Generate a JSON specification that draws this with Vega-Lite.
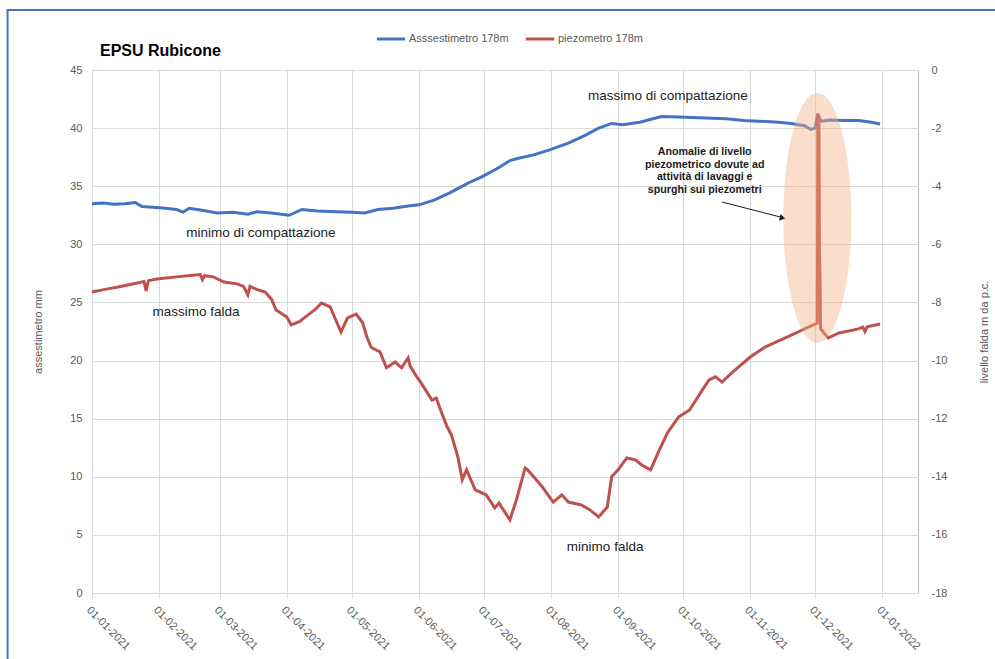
{
  "$schema": "https://vega.github.io/schema/vega-lite/v6.json",
  "width": 826,
  "height": 523,
  "autosize": {"type": "none"},
  "padding": {"left": 92, "top": 70, "right": 77, "bottom": 66},
  "background": "white",
  "config": {
    "font": "Liberation Sans",
    "view": {"stroke": "#bfbfbf", "strokeWidth": 1}
  },
  "title": {
    "text": "EPSU Rubicone",
    "anchor": "start",
    "frame": "group",
    "dx": 8,
    "dy": 60,
    "offset": 10,
    "fontSize": 16,
    "fontWeight": "bold",
    "font": "Liberation Sans",
    "color": "#000000"
  },
  "datasets": {
    "ass": [
      {"d": "2021-01-01", "v": 33.5}, {"d": "2021-01-06", "v": 33.55}, {"d": "2021-01-11", "v": 33.45},
      {"d": "2021-01-16", "v": 33.5}, {"d": "2021-01-21", "v": 33.6}, {"d": "2021-01-24", "v": 33.25},
      {"d": "2021-01-29", "v": 33.2}, {"d": "2021-02-04", "v": 33.1}, {"d": "2021-02-09", "v": 33.0},
      {"d": "2021-02-12", "v": 32.78}, {"d": "2021-02-15", "v": 33.1}, {"d": "2021-02-20", "v": 32.95},
      {"d": "2021-02-28", "v": 32.7}, {"d": "2021-03-07", "v": 32.75}, {"d": "2021-03-14", "v": 32.6},
      {"d": "2021-03-18", "v": 32.8}, {"d": "2021-03-25", "v": 32.7}, {"d": "2021-04-02", "v": 32.5},
      {"d": "2021-04-08", "v": 33.0}, {"d": "2021-04-15", "v": 32.87}, {"d": "2021-04-24", "v": 32.8},
      {"d": "2021-05-01", "v": 32.75}, {"d": "2021-05-07", "v": 32.7}, {"d": "2021-05-13", "v": 33.0},
      {"d": "2021-05-20", "v": 33.1}, {"d": "2021-05-27", "v": 33.3}, {"d": "2021-06-01", "v": 33.4},
      {"d": "2021-06-08", "v": 33.8}, {"d": "2021-06-15", "v": 34.4}, {"d": "2021-06-20", "v": 34.9},
      {"d": "2021-06-24", "v": 35.3}, {"d": "2021-06-30", "v": 35.8}, {"d": "2021-07-07", "v": 36.5},
      {"d": "2021-07-13", "v": 37.2}, {"d": "2021-07-17", "v": 37.4}, {"d": "2021-07-24", "v": 37.7},
      {"d": "2021-07-31", "v": 38.1}, {"d": "2021-08-09", "v": 38.7}, {"d": "2021-08-17", "v": 39.4},
      {"d": "2021-08-23", "v": 40.0}, {"d": "2021-08-29", "v": 40.4}, {"d": "2021-09-03", "v": 40.3},
      {"d": "2021-09-11", "v": 40.5}, {"d": "2021-09-21", "v": 41.0}, {"d": "2021-09-29", "v": 40.95},
      {"d": "2021-10-08", "v": 40.9}, {"d": "2021-10-21", "v": 40.8}, {"d": "2021-10-29", "v": 40.65},
      {"d": "2021-11-05", "v": 40.6}, {"d": "2021-11-14", "v": 40.5}, {"d": "2021-11-20", "v": 40.4},
      {"d": "2021-11-26", "v": 40.2}, {"d": "2021-11-29", "v": 39.9}, {"d": "2021-12-01", "v": 40.0},
      {"d": "2021-12-02", "v": 41.0}, {"d": "2021-12-04", "v": 40.6}, {"d": "2021-12-08", "v": 40.7},
      {"d": "2021-12-14", "v": 40.65}, {"d": "2021-12-21", "v": 40.65}, {"d": "2021-12-27", "v": 40.5},
      {"d": "2021-12-31", "v": 40.35}
    ],
    "piezo": [
      {"d": "2021-01-01", "m": -7.64}, {"d": "2021-01-07", "m": -7.55}, {"d": "2021-01-13", "m": -7.47},
      {"d": "2021-01-22", "m": -7.33}, {"d": "2021-01-25", "m": -7.28}, {"d": "2021-01-26", "m": -7.6},
      {"d": "2021-01-27", "m": -7.25}, {"d": "2021-01-31", "m": -7.19}, {"d": "2021-02-09", "m": -7.12},
      {"d": "2021-02-19", "m": -7.05}, {"d": "2021-02-20", "m": -7.04}, {"d": "2021-02-21", "m": -7.22},
      {"d": "2021-02-22", "m": -7.08}, {"d": "2021-02-26", "m": -7.12}, {"d": "2021-03-03", "m": -7.3},
      {"d": "2021-03-09", "m": -7.36}, {"d": "2021-03-12", "m": -7.45}, {"d": "2021-03-14", "m": -7.74},
      {"d": "2021-03-15", "m": -7.45}, {"d": "2021-03-18", "m": -7.55}, {"d": "2021-03-22", "m": -7.64},
      {"d": "2021-03-25", "m": -7.9}, {"d": "2021-03-27", "m": -8.26}, {"d": "2021-04-01", "m": -8.5},
      {"d": "2021-04-03", "m": -8.77}, {"d": "2021-04-07", "m": -8.65}, {"d": "2021-04-09", "m": -8.53},
      {"d": "2021-04-14", "m": -8.25}, {"d": "2021-04-17", "m": -8.02}, {"d": "2021-04-21", "m": -8.15},
      {"d": "2021-04-23", "m": -8.5}, {"d": "2021-04-26", "m": -9.02}, {"d": "2021-04-29", "m": -8.53},
      {"d": "2021-05-03", "m": -8.4}, {"d": "2021-05-06", "m": -8.7}, {"d": "2021-05-08", "m": -9.2},
      {"d": "2021-05-10", "m": -9.55}, {"d": "2021-05-14", "m": -9.7}, {"d": "2021-05-17", "m": -10.25},
      {"d": "2021-05-21", "m": -10.05}, {"d": "2021-05-24", "m": -10.25}, {"d": "2021-05-27", "m": -9.91},
      {"d": "2021-05-28", "m": -10.2}, {"d": "2021-05-31", "m": -10.56}, {"d": "2021-06-02", "m": -10.77},
      {"d": "2021-06-07", "m": -11.36}, {"d": "2021-06-09", "m": -11.29}, {"d": "2021-06-11", "m": -11.7},
      {"d": "2021-06-14", "m": -12.28}, {"d": "2021-06-16", "m": -12.56}, {"d": "2021-06-19", "m": -13.32},
      {"d": "2021-06-21", "m": -14.1}, {"d": "2021-06-23", "m": -13.76}, {"d": "2021-06-27", "m": -14.45},
      {"d": "2021-07-02", "m": -14.62}, {"d": "2021-07-06", "m": -15.07}, {"d": "2021-07-08", "m": -14.9},
      {"d": "2021-07-10", "m": -15.14}, {"d": "2021-07-13", "m": -15.48}, {"d": "2021-07-16", "m": -14.8},
      {"d": "2021-07-20", "m": -13.7}, {"d": "2021-07-21", "m": -13.75}, {"d": "2021-07-24", "m": -14.0},
      {"d": "2021-07-28", "m": -14.35}, {"d": "2021-07-30", "m": -14.56}, {"d": "2021-08-02", "m": -14.87},
      {"d": "2021-08-06", "m": -14.62}, {"d": "2021-08-09", "m": -14.87}, {"d": "2021-08-15", "m": -14.97},
      {"d": "2021-08-19", "m": -15.14}, {"d": "2021-08-23", "m": -15.38}, {"d": "2021-08-27", "m": -15.04},
      {"d": "2021-08-29", "m": -14.0}, {"d": "2021-09-01", "m": -13.76}, {"d": "2021-09-05", "m": -13.35},
      {"d": "2021-09-09", "m": -13.42}, {"d": "2021-09-12", "m": -13.6}, {"d": "2021-09-16", "m": -13.76},
      {"d": "2021-09-20", "m": -13.08}, {"d": "2021-09-24", "m": -12.46}, {"d": "2021-09-29", "m": -11.94},
      {"d": "2021-10-04", "m": -11.7}, {"d": "2021-10-10", "m": -11.0}, {"d": "2021-10-13", "m": -10.67},
      {"d": "2021-10-16", "m": -10.56}, {"d": "2021-10-19", "m": -10.74}, {"d": "2021-10-24", "m": -10.39},
      {"d": "2021-11-01", "m": -9.88}, {"d": "2021-11-08", "m": -9.53}, {"d": "2021-11-18", "m": -9.19},
      {"d": "2021-11-27", "m": -8.88}, {"d": "2021-12-02", "m": -8.71},
      {"d": "2021-12-02T06:00Z", "m": -1.5}, {"d": "2021-12-02T18:00Z", "m": -1.6},
      {"d": "2021-12-03T00:00Z", "m": -6.4}, {"d": "2021-12-03T06:00Z", "m": -7.0},
      {"d": "2021-12-03T12:00Z", "m": -8.9}, {"d": "2021-12-04", "m": -8.95},
      {"d": "2021-12-07", "m": -9.22}, {"d": "2021-12-12", "m": -9.05}, {"d": "2021-12-21", "m": -8.91},
      {"d": "2021-12-23", "m": -8.85}, {"d": "2021-12-24", "m": -9.0}, {"d": "2021-12-25", "m": -8.84},
      {"d": "2021-12-31", "m": -8.74}
    ]
  },
  "layer": [
    {
      "layer": [
        {
          "data": {"name": "ass"},
          "mark": {"type": "line", "strokeWidth": 3, "interpolate": "linear"},
          "encoding": {
            "x": {
              "field": "d",
              "type": "temporal",
              "scale": {
                "domain": [
                  {"year": 2021, "month": 1, "date": 1},
                  {"year": 2022, "month": 1, "date": 17, "hours": 12}
                ]
              },
              "axis": {
                "title": null,
                "values": [
                  {"year": 2021, "month": 1, "date": 1},
                  {"year": 2021, "month": 2, "date": 1},
                  {"year": 2021, "month": 3, "date": 1},
                  {"year": 2021, "month": 4, "date": 1},
                  {"year": 2021, "month": 5, "date": 1},
                  {"year": 2021, "month": 6, "date": 1},
                  {"year": 2021, "month": 7, "date": 1},
                  {"year": 2021, "month": 8, "date": 1},
                  {"year": 2021, "month": 9, "date": 1},
                  {"year": 2021, "month": 10, "date": 1},
                  {"year": 2021, "month": 11, "date": 1},
                  {"year": 2021, "month": 12, "date": 1},
                  {"year": 2022, "month": 1, "date": 1}
                ],
                "labelExpr": "timeFormat(datum.value, '%d-%m-%Y')",
                "labelAngle": 45,
                "labelAlign": "left",
                "labelBaseline": "top",
                "labelPadding": 6,
                "labelFontSize": 11,
                "labelColor": "#595959",
                "labelOverlap": false,
                "labelFlush": false,
                "labelBound": false,
                "grid": true,
                "gridColor": "#d9d9d9",
                "tickColor": "#d9d9d9",
                "tickSize": 5,
                "domain": false
              }
            },
            "y": {
              "field": "v",
              "type": "quantitative",
              "scale": {"domain": [0, 45], "nice": false, "zero": false},
              "axis": {
                "title": "assestimetro  mm",
                "titleFontSize": 11,
                "titleFontWeight": "normal",
                "titleColor": "#595959",
                "titlePadding": 26,
                "values": [0, 5, 10, 15, 20, 25, 30, 35, 40, 45],
                "labelFontSize": 11,
                "labelColor": "#595959",
                "labelPadding": 10,
                "ticks": false,
                "domain": false,
                "grid": true,
                "gridColor": "#d9d9d9"
              }
            },
            "color": {
              "datum": "Asssestimetro 178m",
              "type": "nominal",
              "scale": {"domain": ["Asssestimetro 178m", "piezometro 178m"], "range": ["#4472C4", "#C0504D"]},
              "legend": {
                "orient": "none",
                "legendX": 283,
                "legendY": -47,
                "direction": "horizontal",
                "title": null,
                "symbolType": "stroke",
                "symbolStrokeWidth": 3,
                "symbolSize": 800,
                "labelFontSize": 11,
                "labelColor": "#595959",
                "labelOffset": 2,
                "columnPadding": 10
              }
            }
          }
        },
        {
          "data": {"values": [{}]},
          "mark": {"type": "rect", "fill": null, "fillOpacity": 0, "stroke": "#4472C4", "strokeWidth": 2},
          "encoding": {
            "x": {"datum": {"year": 2020, "month": 11, "date": 23}, "type": "temporal"},
            "x2": {"datum": {"year": 2022, "month": 3, "date": 20}},
            "y": {"datum": 50.16, "type": "quantitative"},
            "y2": {"datum": -8}
          }
        },
        {
          "data": {"values": [{}]},
          "mark": {"type": "text", "text": "massimo di compattazione", "fontSize": 13.5, "color": "#222222", "align": "center", "baseline": "middle"},
          "encoding": {
            "x": {"datum": {"year": 2021, "month": 9, "date": 24}, "type": "temporal"},
            "y": {"datum": 42.76, "type": "quantitative"}
          }
        },
        {
          "data": {"values": [{}]},
          "mark": {"type": "text", "text": "minimo di compattazione", "fontSize": 13.5, "color": "#222222", "align": "center", "baseline": "middle"},
          "encoding": {
            "x": {"datum": {"year": 2021, "month": 3, "date": 20}, "type": "temporal"},
            "y": {"datum": 30.98, "type": "quantitative"}
          }
        },
        {
          "data": {"values": [{}]},
          "mark": {"type": "text", "text": "massimo falda", "fontSize": 13.5, "color": "#222222", "align": "center", "baseline": "middle"},
          "encoding": {
            "x": {"datum": {"year": 2021, "month": 2, "date": 18}, "type": "temporal"},
            "y": {"datum": 24.18, "type": "quantitative"}
          }
        },
        {
          "data": {"values": [{}]},
          "mark": {"type": "text", "text": "minimo falda", "fontSize": 13.5, "color": "#222222", "align": "center", "baseline": "middle"},
          "encoding": {
            "x": {"datum": {"year": 2021, "month": 8, "date": 26}, "type": "temporal"},
            "y": {"datum": 3.96, "type": "quantitative"}
          }
        },
        {
          "data": {"values": [{}]},
          "mark": {
            "type": "text",
            "text": ["Anomalie  di livello", "piezometrico dovute ad", "attività di lavaggi  e", "spurghi sui piezometri"],
            "fontSize": 10.7,
            "fontWeight": "bold",
            "color": "#1a1a1a",
            "align": "center",
            "baseline": "middle",
            "lineHeight": 12.6
          },
          "encoding": {
            "x": {"datum": {"year": 2021, "month": 10, "date": 11}, "type": "temporal"},
            "y": {"datum": 37.95, "type": "quantitative"}
          }
        },
        {
          "data": {"values": [{}]},
          "mark": {"type": "rule", "color": "#1a1a1a", "strokeWidth": 1},
          "encoding": {
            "x": {"datum": {"year": 2021, "month": 10, "date": 19}, "type": "temporal"},
            "x2": {"datum": {"year": 2021, "month": 11, "date": 16}},
            "y": {"datum": 33.64, "type": "quantitative"},
            "y2": {"datum": 32.3}
          }
        },
        {
          "data": {"values": [{}]},
          "mark": {"type": "point", "shape": "triangle-right", "filled": true, "color": "#1a1a1a", "size": 45, "angle": 14, "opacity": 1},
          "encoding": {
            "x": {"datum": {"year": 2021, "month": 11, "date": 16}, "type": "temporal"},
            "y": {"datum": 32.27, "type": "quantitative"}
          }
        }
      ]
    },
    {
      "layer": [
        {
          "data": {"name": "piezo"},
          "mark": {"type": "line", "strokeWidth": 3, "interpolate": "linear"},
          "encoding": {
            "x": {"field": "d", "type": "temporal"},
            "y": {
              "field": "m",
              "type": "quantitative",
              "scale": {"domain": [-18, 0], "nice": false, "zero": false},
              "axis": {
                "orient": "right",
                "title": "livello falda m da p.c.",
                "titleFontSize": 11,
                "titleFontWeight": "normal",
                "titleColor": "#595959",
                "titleAngle": 270,
                "titlePadding": 43,
                "values": [-18, -16, -14, -12, -10, -8, -6, -4, -2, 0],
                "labelExpr": "'' + datum.value",
                "labelFontSize": 11,
                "labelColor": "#595959",
                "labelPadding": 13,
                "ticks": false,
                "domain": false,
                "grid": false
              }
            },
            "color": {"datum": "piezometro 178m", "type": "nominal"}
          }
        },
        {
          "data": {"values": [{}]},
          "mark": {
            "type": "point",
            "shape": "M0,-1A0.272,1,0,1,1,0,1A0.272,1,0,1,1,0,-1Z",
            "filled": true,
            "fill": "#F4B183",
            "opacity": 0.42,
            "strokeWidth": 0,
            "size": 62500
          },
          "encoding": {
            "x": {"datum": {"year": 2021, "month": 12, "date": 2}, "type": "temporal"},
            "y": {"datum": -5.09, "type": "quantitative"}
          }
        }
      ]
    }
  ],
  "resolve": {"scale": {"y": "independent"}}
}
